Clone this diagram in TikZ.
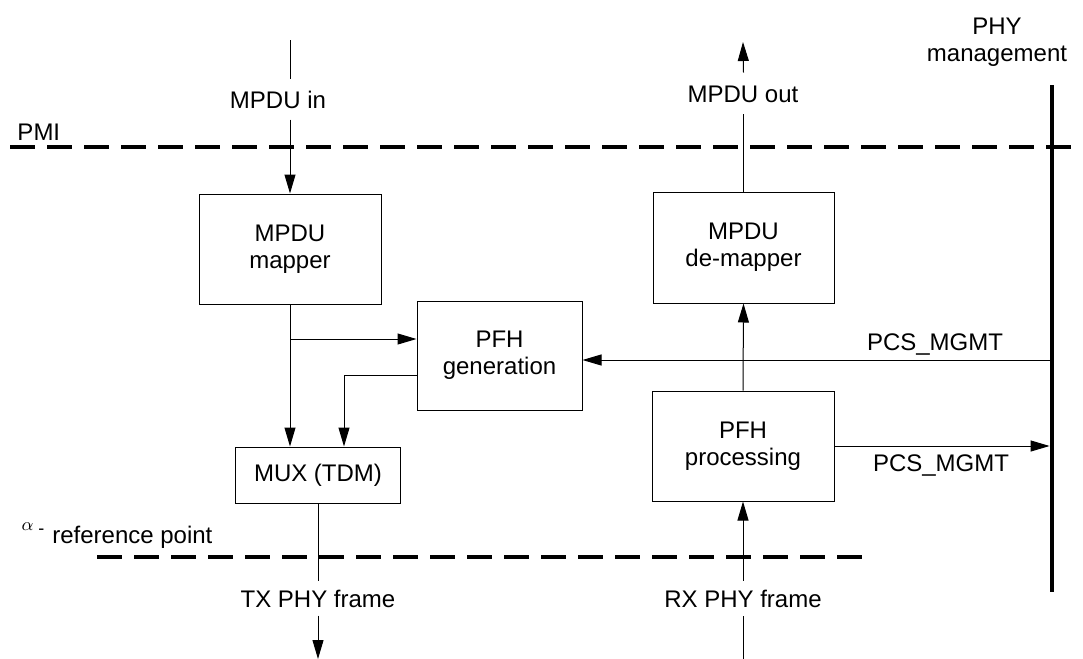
\documentclass[tikz,border=0pt]{standalone}
\usepackage{fontspec}
\setmainfont{Liberation Sans}
\usetikzlibrary{arrows.meta,calc}

\begin{document}
\begin{tikzpicture}[x=0.5pt,y=-0.5pt,line width=0.5pt,
  font=\fontsize{12}{13.5}\selectfont,
  >={Triangle[length=9.5pt,width=5.5pt]},
  blk/.style={draw,align=center,inner sep=0pt},
  lbl/.style={text height=9pt,text depth=0pt,inner xsep=0pt,inner ysep=5.5pt},
  refline/.style={line width=2pt,dash pattern=on 12.5pt off 6pt}]
\useasboundingbox (0,0) rectangle (1083,659);
\path
(290,249)     node[blk,minimum width=91pt,minimum height=55pt] (map) {MPDU\\mapper}
(499.5,355.5) node[blk,minimum width=82.5pt,minimum height=54.5pt] (gen) {PFH\\generation}
(318,475)     node[blk,minimum width=82.5pt,minimum height=28pt] (mux) {MUX (TDM)}
(743.5,247.5) node[blk,minimum width=90.5pt,minimum height=55.5pt] (demap) {MPDU\\de-mapper}
(743,446)     node[blk,minimum width=91pt,minimum height=55pt] (proc) {PFH\\processing}
(278,99)      node[lbl] (in) {MPDU in}
(743,93)      node[lbl] (out) {MPDU out}
(318,598)     node[lbl,inner ysep=4pt] (tx) {TX PHY frame}
(743,598)     node[lbl,inner ysep=4pt] (rx) {RX PHY frame}
(17,140)      node[anchor=base west,inner sep=0pt] (pmi) {PMI}
(997,42.5)    node[align=center,inner sep=0pt] (phy) {PHY\\management}
(935,350)     node[anchor=base,inner sep=0pt] (mgmt1) {PCS\_MGMT}
(941,471)     node[anchor=base,inner sep=0pt] (mgmt2) {PCS\_MGMT}
(21,543)      node[anchor=base west,inner sep=0pt] (alpha)
  {\raisebox{6.5pt}{\fontsize{9}{9}\selectfont$\alpha$}\hspace{2.5pt}%
   \raisebox{4.5pt}{\fontsize{9}{9}\selectfont -}\hspace{4pt}reference point}
;
\coordinate (intop) at (290,40);
\coordinate (outtop) at (743,42);
\coordinate (txbot) at (318,659);
\coordinate (rxbot) at (743,659);
\coordinate (phytop) at (1052,85);
\coordinate (phybot) at (1052,592);
\coordinate (br) at (290,339);
\coordinate (mgmtin) at (1052,360);
% reference points and management bus
\draw[refline] (10,147) -- (1083,147);
\draw[refline] (97,557) -- (867,557);
\draw[line width=2.4pt] (phytop) -- (phybot);
% TX side
\draw (intop) -- (intop |- in.north);
\draw[->] (map.north |- in.south) -- (map.north);
\draw[->] (map.south) -- (map.south |- mux.north);
\draw[->] (br) -- (br -| gen.west);
\draw[->] ([yshift=-9.75pt]gen.west) -| ([xshift=13pt]mux.north);
\draw[->] (mgmtin) -- (mgmtin -| gen.east);
\draw (mux.south) -- (mux.south |- tx.north);
\draw[->] (mux.south |- tx.south) -- (txbot);
% RX side
\draw (demap.north) -- (demap.north |- out.south);
\draw[->] (demap.north |- out.north) -- (outtop);
\draw[->] (proc.north) -- (demap.south);
\draw[->,shorten >=1.2pt] (proc.east) -- (proc.east -| phytop);
\draw (rxbot) -- (rxbot |- rx.south);
\draw[->] (rxbot |- rx.north) -- (proc.south);
\end{tikzpicture}
\end{document}
